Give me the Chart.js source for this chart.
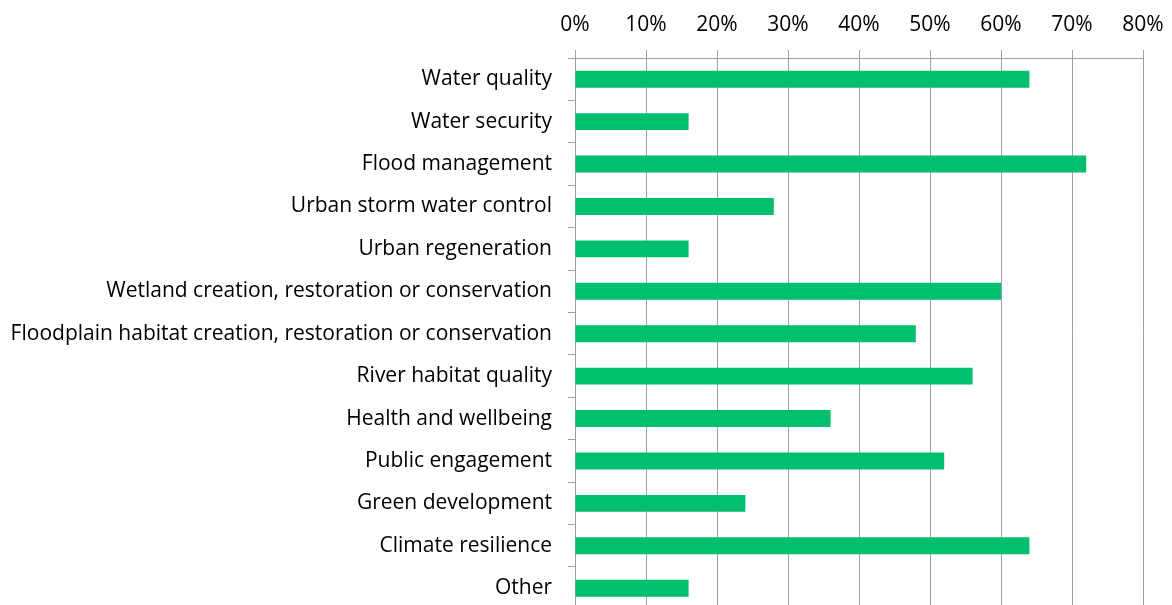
<!DOCTYPE html>
<html>
<head>
<meta charset="utf-8">
<script src="https://cdn.jsdelivr.net/npm/chart.js@4"></script>
<style>
  html, body { margin: 0; padding: 0; background: #fff; overflow: hidden; }
  #wrap { width: 1172px; height: 638px; }
</style>
</head>
<body>
<div id="wrap"><canvas id="barCanvas" width="1172" height="638"></canvas></div>
<script>
const categories = [
    'Water quality',
    'Water security',
    'Flood management',
    'Urban storm water control',
    'Urban regeneration',
    'Wetland creation, restoration or conservation',
    'Floodplain habitat creation, restoration or conservation',
    'River habitat quality',
    'Health and wellbeing',
    'Public engagement',
    'Green development',
    'Climate resilience',
    'Other'
];
// share of respondents, in percent
const shares = [64, 16, 72, 28, 16, 60, 48, 56, 36, 52, 24, 64, 16];
const pctTicks = [0, 10, 20, 30, 40, 50, 60, 70, 80];

const barColor = '#00bf6f';
const gridColor = '#a0a0a0';
const fontFamily = '"Open Sans", sans-serif';
const fontSize = 21;

document.addEventListener("DOMContentLoaded", function(e) {
    const barCanvas = document.getElementById('barCanvas');
    new Chart(barCanvas, {
        type: 'bar',
        data: {
            labels: categories,
            datasets: [{
                data: shares,
                backgroundColor: barColor,
                borderWidth: 0,
                barPercentage: 0.4,
                categoryPercentage: 1
            }]
        },
        options: {
            indexAxis: 'y',
            responsive: false,
            animation: false,
            layout: {
                padding: { top: 0, right: 29, bottom: 0, left: 10 }
            },
            plugins: {
                legend: { display: false },
                tooltip: { enabled: false }
            },
            scales: {
                x: {
                    position: 'top',
                    min: 0,
                    max: 80,
                    afterBuildTicks: function(scale) {
                        scale.ticks = pctTicks.map(v => ({ value: v }));
                    },
                    afterFit: function(scale) {
                        scale.height = 58;
                        scale.paddingRight = 22;
                    },
                    grid: {
                        color: gridColor,
                        lineWidth: 1,
                        tickLength: 8
                    },
                    border: { color: gridColor, width: 1 },
                    ticks: {
                        color: '#000',
                        padding: 12,
                        maxRotation: 0,
                        font: { family: fontFamily, size: fontSize },
                        callback: v => v + '%'
                    }
                },
                y: {
                    afterFit: function(scale) {
                        scale.width = 565;
                    },
                    grid: {
                        drawOnChartArea: false,
                        color: gridColor,
                        tickLength: 7,
                        offset: true
                    },
                    border: { color: gridColor, width: 1 },
                    ticks: {
                        color: '#000',
                        padding: 16,
                        font: { family: fontFamily, size: fontSize }
                    }
                }
            }
        }
    });
});
</script>
</body>
</html>
